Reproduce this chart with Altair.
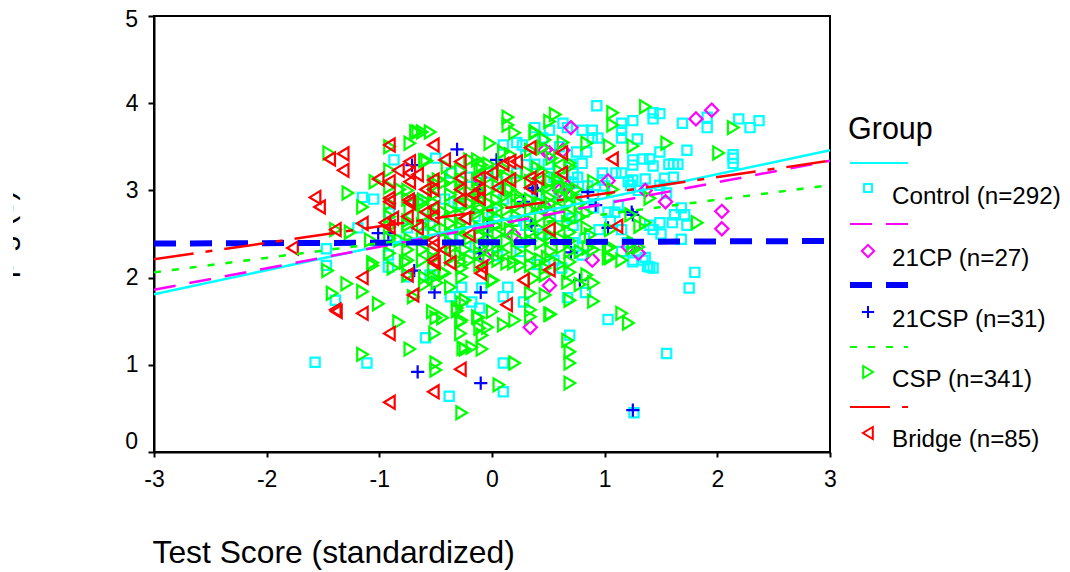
import altair as alt
import pandas as pd

control = [(.93,3.97),(1.25,3.80),(1.43,3.89),(1.49,3.88),(1.43,3.82),(1.69,3.77),(1.91,3.72),(1.91,3.84),(2.19,3.82),(2.29,3.72),(2.37,3.80),(1.73,3.46),(2.14,3.41),(2.14,3.31),(2.14,3.37),(1.15,3.77),(1.15,3.69),(1.15,3.60),(1.29,3.59),(.89,3.69),(.80,3.69),(.89,3.60),(.94,3.60),(.75,3.44),(.84,3.44),(.80,3.31),(1.49,3.44),(1.25,3.35),(1.25,3.29),(1.34,3.36),(1.40,3.36),(1.43,3.28),(1.57,3.30),(1.61,3.30),(1.65,3.30),(1.15,3.20),(.98,3.20),(.98,3.12),(1.21,3.10),(1.25,3.12),(1.36,3.13),(1.53,3.14),(1.61,3.15),(1.49,3.06),(1.23,3.06),(1.55,2.97),(.72,3.20),(.76,3.15),(.72,3.08),(.63,3.77),(.51,3.69),(.67,3.72),
(1.03,2.75),(1.12,2.83),(1.09,2.75),(1.68,2.80),(1.62,2.72),(1.71,2.72),(1.73,2.60),(1.49,2.63),(1.60,2.63),(1.43,2.55),(1.68,2.44),(1.25,2.18),(1.36,2.23),(1.38,2.13),(1.80,2.06),(1.75,1.88),(.71,2.68),
(1.03,1.52),(.69,1.34),(1.34,2.20),(1.40,2.12),(1.43,2.11),(1.25,2.20),(1.55,1.13),(.67,1.77),(.83,1.83),(.62,2.11),(.80,2.26),
(1.26,.45),(-1.57,1.03),(-1.11,1.02),(-.38,.64),(.10,.69),(.10,1.02),(-.59,1.31),
(-.87,3.35),(-1.15,2.92),(-1.05,2.90),(-1.19,2.57),(-1.47,2.33),(-.66,2.89),(-.50,3.37),(.10,3.52),(.27,3.52),(.38,3.72),(-.75,2.57),(-.91,2.74),(-.85,2.43),(-.92,2.26),(-1.47,2.14),(-1.39,1.74),(-.75,2.01),(-.55,2.03),(-.37,1.78),(-.27,1.89),(-.18,1.72),(-.09,1.88),(-.11,1.65),(.10,1.78),(.14,1.89),(.28,1.72),(-.92,2.12),
(-.36,3.2),(-.2,3.15),(-.05,3.2),(.05,3.1),(.22,3.2),(.38,3.3),(.5,3.3),(.6,3.5),(.3,3.4),(.22,3.55),(.45,3.6),(-.42,2.9),(-.3,2.85),(-.15,2.7),(.0,2.75),(.1,2.9),(.3,2.6),(.45,2.5),(.6,2.7),(.72,2.6),(.82,2.45),(.9,2.8),(-.55,2.6),(-.35,2.45),(-.15,2.35),(.05,2.25),(.25,2.3),(.4,2.15),(.55,2.2),(.72,2.4),(.75,2.9),(.85,3.05),(.9,2.95),(.95,2.55),(1.05,2.65),(1.15,2.55),(1.15,2.3),(1.2,2.4),(1.0,3.05),(1.1,3.2),(1.3,3.0),(1.4,2.6),(1.5,2.5),(.55,3.15),(.65,3.1),(.7,3.3),(.6,2.95),(.4,2.95),(.2,2.65)]

cp21 = [(.70,3.72),(1.81,3.82),(1.95,3.92),(1.03,3.11),(1.54,2.87),(2.04,2.76),(2.04,2.56),(1.21,2.35),(1.30,2.28),(.89,2.20),(1.36,3.0),(.51,1.91),(.34,1.43),(.51,3.43),(-.11,3.15),(.47,3.46),(.19,2.49),(-.06,2.24),(.63,3.46),(.67,3.04),(.6,3.0),(.47,2.81),(-.12,3.14)]

csp21 = [(-.31,3.47),(-1.01,2.51),(-.92,2.51),(-.69,2.08),(-.51,1.83),(-.10,1.83),(-.66,.92),(-.10,.79),(.70,2.29),(.78,1.97),(1.03,2.57),(1.25,.48),(1.25,2.72),(1.24,2.75),(.85,2.98),(.92,2.83),(.28,2.87),(.36,3.03),(.04,3.35),(-.11,3.0),(-.71,3.29),(.35,2.6),(-.04,2.58),(-.04,2.43),(.40,3.0),(-.11,2.28)]

csp = [(-1.45,3.43),(-1.28,2.97),(-1.15,2.81),(-1.04,3.10),(-.68,3.67),(-.66,3.67),(-.55,3.67),(-.62,3.67),(-.73,3.54),(-.91,3.50),(-.91,3.23),(-.91,3.04),(-.82,3.01),(-.58,3.34),(-.73,2.78),(-.61,2.89),(-.40,3.27),(-.02,3.54),(.14,3.84),(.14,3.75),(.20,3.66),(.38,3.67),(-.13,3.35),(-.09,3.29),(.10,3.44),(.16,3.41),(.34,3.46),(-1.39,2.55),(-.91,2.28),(-.75,2.20),(-1.06,2.17),(-.52,2.51),(-1.46,2.08),(-1.29,1.93),(-1.42,1.82),(-1.15,1.84),(-1.01,1.70),(-.83,1.49),(-.73,1.18),(-1.15,1.12),(-.50,1.02),(-.50,.94),(-.27,.45),(.06,.77),(.20,1.02),(-.09,1.18),(-.18,1.20),(-.24,1.18),(-.51,1.36),(-.28,1.36),(-.09,1.34),(-.53,1.61),(-.44,1.54),(-.50,1.54),(-.31,1.62),(-.27,1.51),(-.12,1.54),(-.04,1.43),(.10,1.46),(.20,1.51),(0,1.61),(.34,1.63),(.34,1.55),(-.24,1.74),(.01,1.97),(-.37,1.89),(-.49,1.94),(-.27,2.01),(-.42,2.05),(-1.06,2.14),(-.88,2.11),(-.77,2.18),(-.70,1.78),(.13,2.17),(.25,2.14),(.34,1.82),(.34,2.14),
(.49,2.23),(.62,2.35),(.69,2.18),(.85,2.34),(1.03,2.34),(1.03,2.23),(1.15,2.20),(.69,2.06),(.84,2.03),(.90,1.94),(.67,1.95),(.78,1.92),(.47,1.80),(.69,1.74),(.90,1.73),(.51,1.58),(.52,1.58),(1.15,1.59),(1.21,1.48),(.67,1.28),(.69,1.15),(.69,.79),(.69,1.02),(.47,2.03),(.84,2.57),(.60,2.57),(1.31,2.59),(1.25,2.34),(1.30,2.35),
(.56,3.87),(.51,3.79),(1.07,3.89),(1.07,3.75),(1.36,3.96),(2.14,3.72),(2.01,3.43),(1.55,3.54),(1.25,3.51),(1.04,3.51),(.84,3.54),(.63,3.55),(.47,3.58),(.38,3.66),(.53,3.37),(.69,3.27),(.90,3.10),(1.07,3.01),(1.40,2.91),(.84,2.74),(.67,2.63),(1.36,2.63),(1.82,2.63),(1.23,2.72),(1.05,2.55),(1.05,2.35),(1.05,2.23),(.90,2.32),(1.25,2.40),
(.45,3.49),(.60,3.37),(.69,3.31),(.52,3.10),(.58,3.12),(.67,3.03),(.75,3.01),(.45,3.21),(.49,3.03),(.51,2.92),(.63,2.92),(.71,2.95),(.51,2.66),
(-.60,3.34),(-.52,3.09),(-.43,3.09),(-.37,3.12),(-.28,3.23),(-.27,3.12),(-.48,3.12),(-.13,3.12),(-.12,3.01),(.10,3.26),(.22,3.14),(.16,3.01),(.31,3.21),(.40,3.26),
(-.52,2.86),(-.43,2.75),(-.27,2.83),(-.13,2.86),(-.13,2.74),(.04,2.89),(.25,2.89),(.34,2.89),(.40,2.81),(-.61,2.70),
(-.27,1.71),(-.31,1.65),(-.28,1.49),(-.13,1.55),(-.11,1.42),(-.26,1.19),
(-.43,2.06),(-.27,2.11),(0,1.97),(.10,2.29),(.05,2.34),(.19,2.17),(.37,1.99),(.47,2.11),(-.24,2.32),(-.11,2.28),(0,2.37),(-.36,2.34),
(-.42,2.55),(-.27,2.57),(-.11,2.57),(.03,2.60),(.16,2.55),(.34,2.52),(.51,2.49),(.69,2.52),(.87,2.49),(-.82,2.43),(-1.08,2.43),(-1.26,2.52),(-.62,2.60),(-.62,2.20),(-.6,2.0),(-.73,2.43),(-.91,2.70),(-.91,2.58),(-.75,2.60),(-.75,2.03),(-.6,1.92),(-.52,2.30),(-.52,2.11),(-.52,2.0),
(-.37,2.95),(-.37,2.78),(-.37,2.62),(-.37,2.40),(-.37,2.22),(-.28,3.05),(-.28,2.93),(-.28,2.72),(-.28,2.62),(-.28,2.45),(-.28,2.25),(-.28,2.18),(-.2,3.35),(-.2,2.98),(-.2,2.85),(-.2,2.45),(-.2,2.2),(-.11,3.25),(-.11,2.95),(-.11,2.8),(-.11,2.48),(-.11,2.35),(-.11,2.15),(-.03,3.3),(-.03,3.15),(-.03,3.0),(-.03,2.85),(-.03,2.72),(-.03,2.62),(-.03,2.45),(-.03,2.2),(.05,3.2),(.05,3.05),(.05,2.8),(.05,2.68),(.05,2.5),(.05,2.2),(.13,3.15),(.13,2.95),(.13,2.78),(.13,2.62),(.13,2.42),(.22,2.95),(.22,2.82),(.22,2.7),(.22,2.45),(.22,2.3),(.34,3.1),(.34,2.78),(.34,2.65),(.34,2.42),(.34,2.25),(.43,3.05),(.43,2.85),(.43,2.7),(.43,2.55),(.43,2.4),(.43,2.2),(.52,2.85),(.52,2.75),(.52,2.45),(.52,2.3),(.6,3.22),(.6,3.05),(.6,2.8),(.6,2.45),(.6,2.15),(.69,2.85),(.69,2.72),(.69,2.42),(.69,2.3),(.78,2.85),(.78,2.7),(.78,2.3),(-.52,3.05),(-.52,2.95),(-.52,2.75),(-.52,2.62),(-.52,2.22),(-.62,2.85),(-.62,2.45),(-.62,2.32),(-.75,3.0),(-.75,2.9),(-.75,2.65),(-.75,2.32),(-.91,2.85),(-.91,2.45)]

bridge = [(-1.57,2.92),(-1.53,2.81),(-1.44,3.36),(-1.32,3.42),(-1.32,3.23),(-1.01,3.13),(-.91,3.52),(-.91,3.10),(-.91,2.91),(-.91,2.87),(-.83,3.23),(-.73,3.33),(-.73,3.20),(-.66,3.18),(-.73,3.10),(-.74,2.89),(-.73,2.86),(-.75,2.70),(-.88,2.68),(-.95,2.63),(-.91,2.58),(-1.15,2.62),(-1.39,2.55),(-1.77,2.34),(-.66,2.57),(-.59,3.01),(-.52,3.01),(-.52,3.52),(-.42,3.35),(-.28,3.33),(-.28,3.14),(-.28,3.01),(-.59,2.75),(-.52,2.80),(-.52,2.70),(-.24,2.68),(-.17,2.95),(-.11,3.01),(-.11,2.91),(0,3.20),(.05,3.03),(.10,3.30),(.16,3.33),(.22,3.33),(.34,3.49),(.34,3.14),(.34,3.03),(.41,3.14),(-.52,2.43),(-.52,2.20),(-.37,2.17),(-.20,2.49),(-.09,2.12),(-1.15,2.00),(-1.39,1.63),(-1.38,1.61),(-1.15,1.59),(-.91,1.36),(-.91,.57),(-.52,.69),(-.28,.95),(-.70,1.80),(-.75,2.03),(-.51,2.17),(-.10,2.05),(.28,1.97),(.13,1.69),(.62,3.43),(.62,3.20),(1.07,3.36),(.51,2.55),(1.11,2.59),(.51,2.09),(-.42,2.32),(-.52,2.37),(-.28,2.89),(-.11,3.14),(.16,3.12),(-.52,3.12)]

fit_control = [(-3, 1.81), (3, 3.46)]
fit_cp21 = [(-3, 1.86), (3, 3.34)]
fit_csp21 = [(-3, 2.39), (3, 2.42)]
fit_csp = [(-3, 2.06), (3, 3.06)]
fit_bridge = [(-3, 2.21), (3, 3.34)]

y_title_fragment = "p g (s)"
x_title = "Test Score (standardized)"
legend_title = "Group"
legend_labels = ["Control (n=292)", "21CP (n=27)", "21CSP (n=31)", "CSP (n=341)", "Bridge (n=85)"]

FONT = "Liberation Sans"
CYAN, MAG, BLUE, GREEN, RED = "#00ffff", "#ff00ff", "#0000ff", "#00ff00", "#ff0000"
SQUARE = "M-.5,-.5H.5V.5H-.5Z"
DIAMOND = "M0,-.5L.5,0L0,.5L-.5,0Z"
PLUS = "M-.5,0H.5M0,-.5V.5"
TRI_R = "M-.4,-.5L.42,0L-.4,.5Z"
TRI_L = "M.4,-.5L-.42,0L.4,.5Z"
S_SQUARE, S_DIAMOND, S_PLUS, S_TRI = 340, 700, 700, 680
MW = 2.2  # marker stroke
LW = 2.5  # fit line stroke
LEG_X, LEG_FS = 892, 24.2

X = alt.X("x:Q", scale=alt.Scale(domain=[-3, 3], nice=False, zero=False),
          axis=alt.Axis(values=[-3, -2, -1, 0, 1, 2, 3], grid=False, title=x_title,
                        labelExpr="'' + datum.value",
                        domainColor="black", domainWidth=2, tickColor="black", tickWidth=2, tickSize=5,
                        labelFont=FONT, labelFontSize=23, labelColor="black", labelPadding=11,
                        labelFlush=False, labelOverlap=False,
                        titleFont=FONT, titleFontSize=31.8, titleFontWeight="normal", titleColor="black",
                        titleAnchor="start", titleAlign="left", titleBaseline="alphabetic",
                        titleX=-2, titleY=110))
Y = alt.Y("y:Q", scale=alt.Scale(domain=[0, 5], nice=False, zero=False),
          axis=alt.Axis(values=[0, 1, 2, 3, 4, 5], grid=False, title=None, format="d",
                        domainColor="black", domainWidth=2, tickColor="black", tickWidth=2, tickSize=6,
                        labelFont=FONT, labelFontSize=23, labelColor="black", labelPadding=10,
                        labelFlush=False, labelOverlap=False,
                        labelExpr="datum.value == 0 || datum.value == 5 ? '' : datum.label"))


def frame(rows):
    return pd.DataFrame(rows, columns=["x", "y"])


def pts(rows, color, shape, size):
    return alt.Chart(frame(rows)).mark_point(filled=False, shape=shape, size=size, stroke=color,
                                             strokeWidth=MW, opacity=1).encode(x=X, y=Y)


def fit(rows, color, width, dash=None):
    kw = {"strokeDash": dash} if dash else {}
    return alt.Chart(frame(rows)).mark_line(color=color, strokeWidth=width, **kw).encode(x=X, y=Y)


ONE = pd.DataFrame({"a": [0]})
OX, OY = 154, 16  # plot area's origin in the page


def legend_line(y, color, width, dash=None):
    kw = {"strokeDash": dash} if dash else {}
    return alt.Chart(ONE).mark_rule(color=color, strokeWidth=width, **kw).encode(
        x=alt.value(850 - OX), x2=alt.value(908 - OX), y=alt.value(y - OY))


def legend_sym(y, color, shape, size):
    return alt.Chart(ONE).mark_point(filled=False, shape=shape, size=size, stroke=color, strokeWidth=2,
                                     opacity=1).encode(x=alt.value(868 - OX), y=alt.value(y - OY))


def legend_text(txt, x, y, size):
    return alt.Chart(ONE).mark_text(text=txt, font=FONT, fontSize=size, color="black", align="left",
                                    baseline="alphabetic").encode(x=alt.value(x - OX), y=alt.value(y - OY))


def offset_tick(value, dy):
    return alt.Chart(pd.DataFrame({"x": [-3], "y": [value]})).mark_text(
        text=str(value), font=FONT, fontSize=23, color="black", align="right", baseline="alphabetic", dx=-16, dy=dy
    ).encode(x=X, y=Y)


layers = [
    pts(control, CYAN, SQUARE, S_SQUARE),
    pts(cp21, MAG, DIAMOND, S_DIAMOND),
    pts(csp21, BLUE, PLUS, S_PLUS),
    pts(csp, GREEN, TRI_R, S_TRI),
    pts(bridge, RED, TRI_L, S_TRI),
    fit(fit_control, CYAN, LW),
    fit(fit_cp21, MAG, LW, [22, 14]),
    fit(fit_csp21, BLUE, 6, [22, 14]),
    fit(fit_csp, GREEN, LW, [7, 11]),
    fit(fit_bridge, RED, LW, [40, 12, 7, 12]),
    # these two tick labels sit off their ticks in the reference
    offset_tick(0, -3),
    offset_tick(5, 11),
    # clipped y title: only descenders remain visible
    alt.Chart(ONE).mark_text(text=y_title_fragment, font=FONT, fontSize=31, color="black", angle=270,
                             align="left", baseline="alphabetic").encode(x=alt.value(13 - OX), y=alt.value(278 - OY)),
    alt.Chart(ONE).mark_rect(color="white").encode(x=alt.value(0 - OX), x2=alt.value(13 - OX),
                                                   y=alt.value(100 - OY), y2=alt.value(330 - OY)),
    legend_text(legend_title, 848, 139, 30.5),
    legend_line(163, CYAN, 2),
    legend_sym(188, CYAN, SQUARE, 256),
    legend_text(legend_labels[0], LEG_X, 204, LEG_FS),
    legend_line(224, MAG, 2, [22, 14]),
    legend_sym(251, MAG, DIAMOND, 600),
    legend_text(legend_labels[1], LEG_X, 266, LEG_FS),
    legend_line(285, BLUE, 6, [22, 14]),
    legend_sym(312, BLUE, PLUS, 600),
    legend_text(legend_labels[2], LEG_X, 327, LEG_FS),
    legend_line(347, GREEN, 2, [7, 11]),
    legend_sym(372, GREEN, TRI_R, 576),
    legend_text(legend_labels[3], LEG_X, 387, LEG_FS),
    legend_line(407, RED, 2, [40, 12, 7, 12]),
    legend_sym(433, RED, TRI_L, 576),
    legend_text(legend_labels[4], LEG_X, 447, LEG_FS),
]

chart = alt.layer(*layers).properties(
    width=676, height=436,
    autosize=alt.AutoSizeParams(type="none"),
    padding={"left": 146, "top": 8, "right": 232, "bottom": 120},
    background="white",
).configure_view(stroke="black", strokeWidth=2)

chart.save("out.html", embed_options={"renderer": "svg", "actions": False})
